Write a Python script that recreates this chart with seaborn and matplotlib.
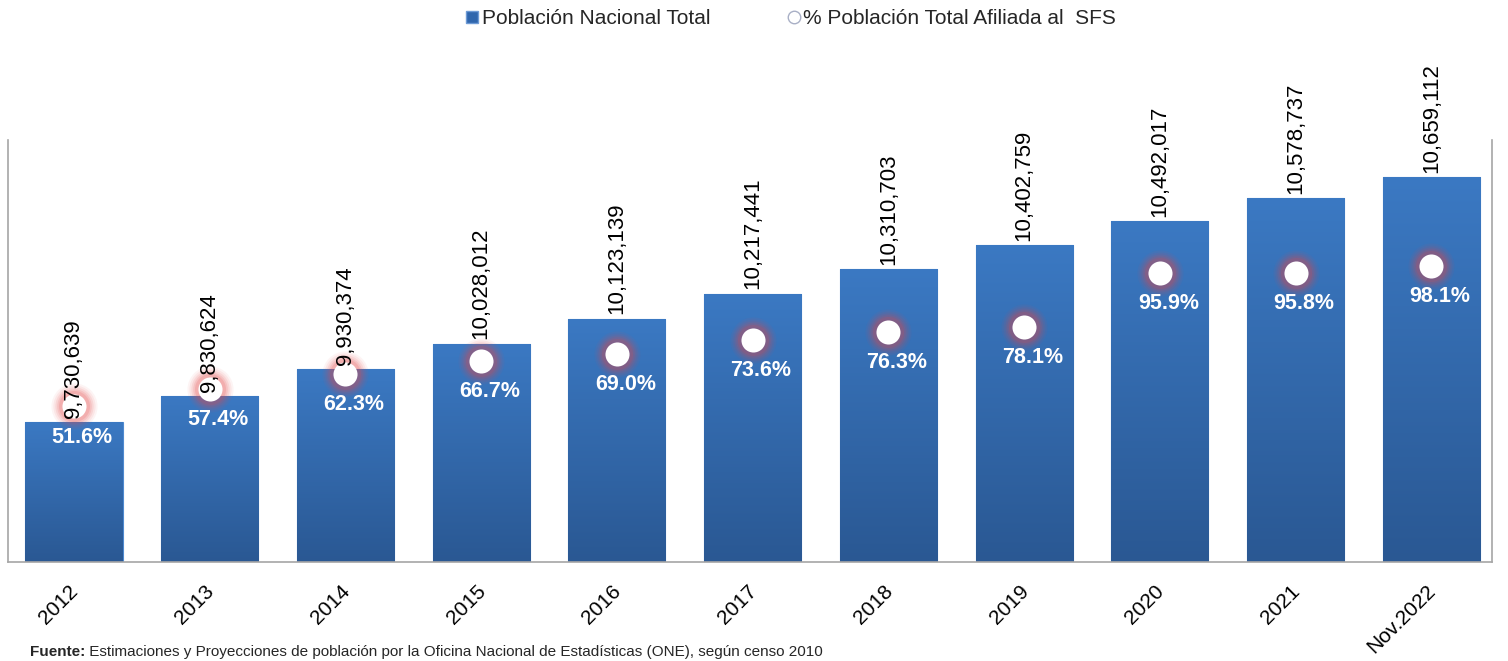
import matplotlib

matplotlib.use("Agg")
import matplotlib.pyplot as plt
import matplotlib.transforms as mtransforms
import numpy as np
import seaborn as sns
from matplotlib import font_manager
from matplotlib.colors import LinearSegmentedColormap
from matplotlib.lines import Line2D

years = ["2012", "2013", "2014", "2015", "2016", "2017",
         "2018", "2019", "2020", "2021", "Nov.2022"]
population = [9730639, 9830624, 9930374, 10028012, 10123139, 10217441,
              10310703, 10402759, 10492017, 10578737, 10659112]
pct_affiliated = [51.6, 57.4, 62.3, 66.7, 69.0, 73.6, 76.3, 78.1, 95.9, 95.8, 98.1]

BAR_TOP = "#3b79c3"
BAR_BOTTOM = "#2a5893"
GLOW = "#e54848"
Y_MIN, Y_MAX = 9200000, 10800000
XLIM = (-0.486, 10.446)

sns.set_theme(style="white")
installed = {f.name for f in font_manager.fontManager.ttflist}
MAIN = "Liberation Sans" if "Liberation Sans" in installed else "DejaVu Sans"
NARROW = "Liberation Sans Narrow" if "Liberation Sans Narrow" in installed else MAIN
plt.rcParams["font.family"] = [MAIN, "DejaVu Sans"]

fig = plt.figure(figsize=(15.08, 6.61), dpi=100)
ax = fig.add_axes([8 / 1508, 99 / 661, 1484 / 1508, 422 / 661])

sns.barplot(x=years, y=population, color=BAR_TOP, width=0.715,
            saturation=1, ax=ax, zorder=2)
ax.set_ylim(Y_MIN, Y_MAX)
ax.set_xlim(*XLIM)

# vertical gradient fill on every bar
cmap = LinearSegmentedColormap.from_list("bar", [BAR_BOTTOM, BAR_TOP])
grad = np.linspace(0, 1, 256).reshape(-1, 1)
for patch in ax.patches:
    x0, w, top = patch.get_x(), patch.get_width(), patch.get_height()
    im = ax.imshow(grad, cmap=cmap, origin="lower", aspect="auto",
                   extent=[x0, x0 + w, Y_MIN, top], zorder=2)
    im.set_clip_path(patch)
    patch.set_edgecolor("#4f8ad0")
    patch.set_linewidth(0.8)
ax.set_xlim(*XLIM)
ax.set_ylim(Y_MIN, Y_MAX)

ax.set_xlabel("")
ax.set_ylabel("")
ax.set_yticks([])
ax.tick_params(axis="x", length=0, pad=14, labelsize=15, labelcolor="black")
shift = mtransforms.ScaledTranslation(8 / 100, 0, fig.dpi_scale_trans)
for lbl in ax.get_xticklabels():
    lbl.set_rotation(45)
    lbl.set_ha("right")
    lbl.set_transform(lbl.get_transform() + shift)
for side in ("left", "right", "bottom"):
    ax.spines[side].set_color("#a6a6a6")
    ax.spines[side].set_linewidth(1.2)
ax.spines["top"].set_visible(False)

# secondary axis: % affiliated, drawn as glowing white dots
ax2 = ax.twinx()
ax2.set_ylim(0, 140)
ax2.set_yticks([])
ax2.set_xlim(*XLIM)
for s in ax2.spines.values():
    s.set_visible(False)
xpos = np.arange(len(years))
for size, alpha in [(1100, 0.06), (920, 0.08), (760, 0.10), (620, 0.13), (500, 0.16)]:
    sns.scatterplot(x=xpos, y=pct_affiliated, s=size, color=GLOW, alpha=alpha,
                    linewidth=0, ax=ax2, zorder=3, legend=False)
sns.scatterplot(x=xpos, y=pct_affiliated, s=300, color="white",
                linewidth=0, ax=ax2, zorder=4, legend=False)
for i, p in enumerate(pct_affiliated):
    ax2.annotate(f"{p:.1f}%", xy=(i, p), xytext=(6, -22), textcoords="offset points",
                 ha="center", va="center", fontsize=15.5, fontweight="bold",
                 color="white", family=[NARROW, "DejaVu Sans"], zorder=5)

# population labels on top layer, positioned in the secondary axis scale
for i, v in enumerate(population):
    ax2.annotate(f"{v:,}", xy=(i, (v - Y_MIN) / (Y_MAX - Y_MIN) * 140), xytext=(0, 3),
                 textcoords="offset points", rotation=90, ha="center", va="bottom",
                 fontsize=16, color="black", zorder=6)

handles = [
    Line2D([], [], marker="s", linestyle="none", markersize=8,
           markerfacecolor="#2f66ad", markeredgecolor="#6e9bd6"),
    Line2D([], [], marker="o", linestyle="none", markersize=9,
           markerfacecolor="white", markeredgecolor="#a9b0c6"),
]
fig.legend(handles, ["Población Nacional Total", "% Población Total Afiliada al  SFS"],
           loc="center", bbox_to_anchor=(790 / 1508, 1 - 19 / 661), ncol=2,
           frameon=False, fontsize=15, handletextpad=0.05, columnspacing=3.6,
           handlelength=0.8)

src = fig.text(30 / 1508, 2 / 661, "Fuente:", fontsize=11,
               fontweight="bold", va="bottom", ha="left")
ax.annotate(" Estimaciones y Proyecciones de población por la Oficina Nacional de "
            "Estadísticas (ONE), según censo 2010", xy=(1, 0), xycoords=src,
            va="bottom", ha="left", fontsize=11, annotation_clip=False)

fig.savefig("out.png", dpi=100)
